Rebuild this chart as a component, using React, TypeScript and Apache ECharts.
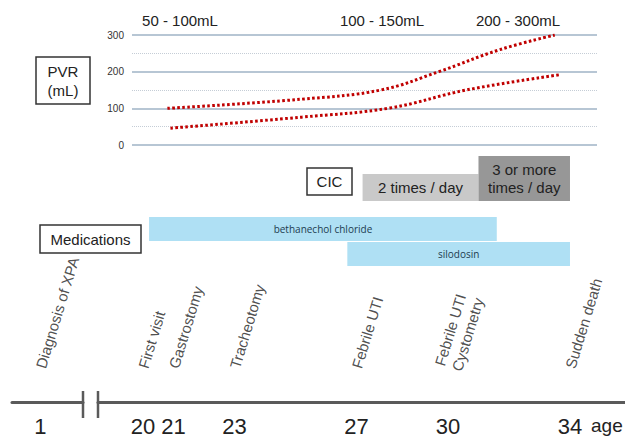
import React, { useEffect, useRef } from 'react';
import * as echarts from 'echarts';

// ---------- data ----------
// Post-void residual (PVR, mL): upper and lower bound of the range, by age
const pvrUpperAges = [20.8, 25.2, 27.8, 29.7, 31.7, 33.5];
const pvrUpperValues = [100, 125, 150, 200, 260, 300];
const pvrLowerAges = [20.9, 25.2, 28.1, 30.6, 33.7];
const pvrLowerValues = [46, 76, 101, 150, 192];
const pvrTicks = [0, 100, 200, 300];
const pvrRangeLabels = ['50 - 100mL', '100 - 150mL', '200 - 300mL'];

// Clean intermittent catheterisation
const cicLabels = ['2 times / day', '3 or more\ntimes / day'];
const cicTimesPerDay = [2, 3];
const cicStartAges = [27.2, 31.0];
const cicEndAges = [31.0, 34.0];

// Medications
const medNames = ['bethanechol chloride', 'silodosin'];
const medStartAges = [20.2, 26.7];
const medEndAges = [31.6, 34.0];

// Events on the age timeline
const eventNames = [
  'Diagnosis of XPA',
  'First visit',
  'Gastrostomy',
  'Tracheotomy',
  'Febrile UTI',
  'Febrile UTI\nCystometry',
  'Sudden death',
];
const eventAges = [1, 20, 21, 23, 27, 30, 34];

// ---------- layout helpers ----------
const W = 625;
const H = 437;
const FONT = '"Liberation Sans", Arial, sans-serif';
// linear age scale shared by the grids on the right of the axis break
const AGE_REF = 25.83;
const PX_REF = 320.8;
const PX_PER_YEAR = 30.5;
const ageAtPx = (px: number) => AGE_REF + (px - PX_REF) / PX_PER_YEAR;
const CIC_BASE = 0.5;

const COLORS = {
  pvr: '#c00000',
  grid: '#9fb3c6',
  gridMinor: '#c5cdd6',
  cic: ['#c9c9c9', '#979797'],
  med: '#afe0f4',
  medText: '#1d3c50',
  axis: '#5a5a5a',
  text: '#222222',
  box: '#333333',
};

function buildOption(): any {
  const hiddenX = (gridIndex: number, minPx: number, maxPx: number) => ({
    type: 'value',
    gridIndex,
    min: ageAtPx(minPx),
    max: ageAtPx(maxPx),
    show: false,
  });

  const box = (x: number, y: number, w: number, h: number, text: string, lh = 18) => [
    {
      type: 'rect',
      shape: { x, y, width: w, height: h },
      style: { fill: '#ffffff', stroke: COLORS.box, lineWidth: 1.5 },
    },
    {
      type: 'text',
      x: x + w / 2,
      y: y + h / 2,
      style: {
        text,
        fill: COLORS.text,
        font: `15px ${FONT}`,
        lineHeight: lh,
        align: 'center',
        verticalAlign: 'middle',
        textAlign: 'center',
        textVerticalAlign: 'middle',
      },
    },
  ];

  const rangeLabelX = [180, 382, 518];

  const rightEvents = eventNames
    .map((n, i) => ({ name: n, value: [eventAges[i], 1] }))
    .filter((d) => d.value[0] >= 20);
  const leftEvents = eventNames
    .map((n, i) => ({ name: n, value: [eventAges[i], 1] }))
    .filter((d) => d.value[0] < 20);

  const eventLabel = {
    show: true,
    position: 'inside',
    formatter: (p: any) => p.name,
    rotate: 73,
    align: 'left',
    verticalAlign: 'middle',
    fontSize: 15,
    lineHeight: 18,
    fontFamily: FONT,
    color: COLORS.text,
  };

  const eventSeries = (axisIndex: number, data: any[]) => ({
    type: 'scatter',
    xAxisIndex: axisIndex,
    yAxisIndex: axisIndex,
    symbolSize: 1,
    clip: false,
    itemStyle: { color: 'rgba(255,255,255,0)' },
    data,
    label: eventLabel,
  });

  return {
    animation: false,
    backgroundColor: '#ffffff',
    grid: [
      { left: 132, right: W - 597, top: 35, height: 110 },
      { left: 0, right: 0, top: 156, height: 45 },
      { left: 0, right: 0, top: 217, height: 50 },
      { left: 98, right: 0, top: 368, height: 34 },
      { left: 12, right: W - 83, top: 368, height: 34 },
    ],
    xAxis: [
      hiddenX(0, 132, 597),
      hiddenX(1, 0, W),
      hiddenX(2, 0, W),
      {
        type: 'value',
        gridIndex: 3,
        min: ageAtPx(98),
        max: ageAtPx(W),
        position: 'bottom',
        axisLine: { show: true, onZero: false, lineStyle: { color: COLORS.axis, width: 3 } },
        axisTick: { show: false },
        splitLine: { show: false },
        axisLabel: {
          customValues: eventAges.filter((a) => a >= 20),
          formatter: (v: number) => String(v),
          fontSize: 22,
          fontFamily: FONT,
          color: COLORS.text,
          margin: 13,
        },
      },
      {
        type: 'value',
        gridIndex: 4,
        min: 0,
        max: 2.5,
        position: 'bottom',
        axisLine: { show: true, onZero: false, lineStyle: { color: COLORS.axis, width: 3 } },
        axisTick: { show: false },
        splitLine: { show: false },
        axisLabel: {
          customValues: eventAges.filter((a) => a < 20),
          formatter: (v: number) => String(v),
          fontSize: 22,
          fontFamily: FONT,
          color: COLORS.text,
          margin: 13,
        },
      },
    ],
    yAxis: [
      {
        type: 'value',
        gridIndex: 0,
        min: pvrTicks[0],
        max: pvrTicks[pvrTicks.length - 1],
        interval: 100,
        axisLine: { show: false },
        axisTick: { show: false },
        axisLabel: { fontSize: 10, color: '#333', fontFamily: FONT, margin: 8 },
        splitLine: { show: true, lineStyle: { color: COLORS.grid, width: 1.5 } },
        minorTick: { show: false, splitNumber: 2 },
        minorSplitLine: { show: true, lineStyle: { color: COLORS.gridMinor, width: 1, type: 'dotted' } },
      },
      { type: 'value', gridIndex: 1, min: CIC_BASE, max: 3, show: false },
      { type: 'category', gridIndex: 2, data: medNames, inverse: true, show: false },
      { type: 'value', gridIndex: 3, min: 0, max: 1, show: false },
      { type: 'value', gridIndex: 4, min: 0, max: 1, show: false },
    ],
    series: [
      {
        type: 'line',
        xAxisIndex: 0,
        yAxisIndex: 0,
        data: pvrUpperAges.map((a, i) => [a, pvrUpperValues[i]]),
        smooth: 0.4,
        symbol: 'none',
        lineStyle: { color: COLORS.pvr, width: 3, type: [2.6, 2.4], cap: 'butt' },
      },
      {
        type: 'line',
        xAxisIndex: 0,
        yAxisIndex: 0,
        data: pvrLowerAges.map((a, i) => [a, pvrLowerValues[i]]),
        smooth: 0.4,
        symbol: 'none',
        lineStyle: { color: COLORS.pvr, width: 3, type: [2.6, 2.4], cap: 'butt' },
      },
      {
        type: 'custom',
        xAxisIndex: 1,
        yAxisIndex: 1,
        clip: false,
        encode: { x: [0, 1], y: 2 },
        data: cicStartAges.map((s, i) => [s, cicEndAges[i], cicTimesPerDay[i]]),
        renderItem: (params: any, api: any) => {
          const i = params.dataIndex;
          const p0 = api.coord([api.value(0), api.value(2)]);
          const p1 = api.coord([api.value(1), CIC_BASE]);
          return {
            type: 'rect',
            shape: { x: p0[0], y: p0[1], width: p1[0] - p0[0], height: p1[1] - p0[1] },
            style: { fill: COLORS.cic[i] },
            textContent: {
              style: {
                text: cicLabels[i],
                fill: COLORS.text,
                font: `15px ${FONT}`,
                lineHeight: 18,
                align: 'center',
              },
            },
            textConfig: { position: 'inside' },
          };
        },
      },
      {
        type: 'custom',
        xAxisIndex: 2,
        yAxisIndex: 2,
        clip: false,
        encode: { x: [0, 1], y: 2 },
        data: medStartAges.map((s, i) => [s, medEndAges[i], i]),
        renderItem: (params: any, api: any) => {
          const i = params.dataIndex;
          const c0 = api.coord([api.value(0), api.value(2)]);
          const c1 = api.coord([api.value(1), api.value(2)]);
          const band = api.size([0, 1])[1];
          return {
            type: 'rect',
            shape: { x: c0[0], y: c0[1] - band / 2, width: c1[0] - c0[0], height: band - 1 },
            style: { fill: COLORS.med },
            textContent: {
              style: {
                text: medNames[i],
                fill: COLORS.medText,
                font: '10px "Open Sans", sans-serif',
              },
            },
            textConfig: { position: 'inside' },
          };
        },
      },
      eventSeries(3, rightEvents),
      eventSeries(4, leftEvents),
    ],
    graphic: [
      ...pvrRangeLabels.map((t, i) => ({
        type: 'text',
        x: rangeLabelX[i],
        y: 20,
        style: {
          text: t,
          fill: COLORS.text,
          font: `15px ${FONT}`,
          align: 'center',
          verticalAlign: 'middle',
          textAlign: 'center',
          textVerticalAlign: 'middle',
        },
      })),
      ...box(36, 57, 54, 47, 'PVR\n(mL)', 19),
      ...box(307, 168, 45, 27, 'CIC'),
      ...box(40, 225, 101, 28, 'Medications'),
      { type: 'line', shape: { x1: 83, y1: 391, x2: 83, y2: 418 }, style: { stroke: COLORS.axis, lineWidth: 2.5 } },
      { type: 'line', shape: { x1: 98, y1: 391, x2: 98, y2: 418 }, style: { stroke: COLORS.axis, lineWidth: 2.5 } },
      {
        type: 'text',
        x: 591,
        y: 425,
        style: {
          text: 'age',
          fill: COLORS.text,
          font: `19px ${FONT}`,
          align: 'left',
          verticalAlign: 'middle',
          textAlign: 'left',
          textVerticalAlign: 'middle',
        },
      },
    ],
  };
}

export default function App() {
  const ref = useRef<HTMLDivElement>(null);
  useEffect(() => {
    if (!ref.current) return;
    const chart = echarts.init(ref.current, undefined, { renderer: 'svg' });
    chart.setOption(buildOption());
    return () => chart.dispose();
  }, []);
  return (
    <div
      ref={ref}
      style={{ position: 'absolute', left: 0, top: 0, width: W, height: H, background: '#fff' }}
    />
  );
}
